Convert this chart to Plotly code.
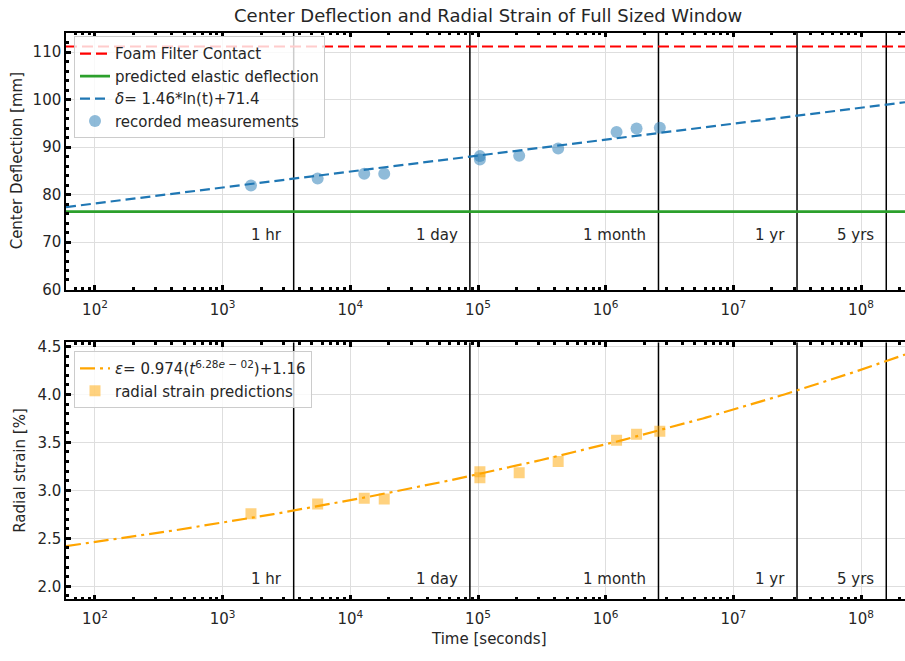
import numpy as np
import plotly.graph_objects as go

# ---- data -------------------------------------------------------------
time_s = [1666, 5546, 12850, 18430, 103500, 103500, 210200, 424600, 1217000, 1746000, 2656000]
deflection_mm = [81.9, 83.4, 84.4, 84.4, 87.4, 88.1, 88.2, 89.7, 93.2, 93.9, 94.1]
strain_pct = [2.757, 2.859, 2.917, 2.910, 3.132, 3.195, 3.183, 3.302, 3.523, 3.585, 3.616]

foam_contact_mm = 111.2
elastic_deflection_mm = 76.4

# fit coefficients: delta = a*ln(t) + b ; eps = c*t**p + d
defl_a, defl_b = 1.46, 71.4
strain_c, strain_p, strain_d = 0.974, 0.0628, 1.16

milestone_s = [3600, 86400, 2592000, 31536000, 157680000]
milestone_labels = ["1 hr", "1 day", "1 month", "1 yr", "5 yrs"]

decade_ticks = [1e2, 1e3, 1e4, 1e5, 1e6, 1e7, 1e8]
decade_labels = ["10<sup>%d</sup>" % int(round(np.log10(v))) for v in decade_ticks]

# ---- geometry ---------------------------------------------------------
W, H = 905, 661
XLOG_RANGE = [1.7729, 8.3446]
TOP_YRANGE = [59.9, 114.1]
BOT_YRANGE = [1.864, 4.544]
t_min, t_max = 10 ** XLOG_RANGE[0], 10 ** XLOG_RANGE[1]

x_dom = [66 / W, 1.0]
top_dom = [(H - 291.7) / H, (H - 29.3) / H]
bot_dom = [(H - 607.3) / H, (H - 345.0) / H]

TEXT = "#262626"
GRID = "#dedede"
t_fit = np.logspace(XLOG_RANGE[0], XLOG_RANGE[1], 300)

minor_vals = [k * 10 ** e for e in range(1, 9) for k in range(2, 10)]

fig = go.Figure()

# milestone markers (vertical lines) on both panels
for ms in milestone_s:
    fig.add_trace(go.Scatter(x=[ms, ms], y=TOP_YRANGE, mode="lines",
                             line=dict(color="black", width=1.5),
                             showlegend=False, hoverinfo="skip",
                             xaxis="x", yaxis="y"))
    fig.add_trace(go.Scatter(x=[ms, ms], y=BOT_YRANGE, mode="lines",
                             line=dict(color="black", width=1.5),
                             showlegend=False, hoverinfo="skip",
                             xaxis="x2", yaxis="y2"))

# ---- top panel --------------------------------------------------------
fig.add_trace(go.Scatter(x=[t_min, t_max], y=[foam_contact_mm] * 2, mode="lines",
                         line=dict(color="#ff0000", width=2.2, dash="11px,5px"),
                         name="Foam Filter Contact", legend="legend",
                         xaxis="x", yaxis="y"))
fig.add_trace(go.Scatter(x=[t_min, t_max], y=[elastic_deflection_mm] * 2, mode="lines",
                         line=dict(color="#2ca02c", width=2.6),
                         name="predicted elastic deflection", legend="legend",
                         xaxis="x", yaxis="y"))
fig.add_trace(go.Scatter(x=t_fit, y=defl_a * np.log(t_fit) + defl_b, mode="lines",
                         line=dict(color="#1f77b4", width=2.2, dash="10px,5px"),
                         name="<i>δ</i>= %.2f*ln(t)+%.1f" % (defl_a, defl_b),
                         legend="legend", xaxis="x", yaxis="y"))
fig.add_trace(go.Scatter(x=time_s, y=deflection_mm, mode="markers",
                         marker=dict(symbol="circle", size=12, color="rgba(31,119,180,0.5)",
                                     line=dict(width=0)),
                         name="recorded measurements", legend="legend",
                         xaxis="x", yaxis="y"))

# ---- bottom panel -----------------------------------------------------
exp_txt = ("%.2e" % strain_p).replace("e-", "<i>e</i> − ")
fig.add_trace(go.Scatter(x=t_fit, y=strain_c * t_fit ** strain_p + strain_d, mode="lines",
                         line=dict(color="#ffa500", width=2.2, dash="15px,5px,3px,5px"),
                         name="<i>ε</i>= %.3f(<i>t</i><sup>%s</sup>)+%.2f" % (strain_c, exp_txt, strain_d),
                         legend="legend2", xaxis="x2", yaxis="y2"))
fig.add_trace(go.Scatter(x=time_s, y=strain_pct, mode="markers",
                         marker=dict(symbol="square", size=11, color="rgba(255,165,0,0.5)",
                                     line=dict(width=0)),
                         name="radial strain predictions", legend="legend2",
                         xaxis="x2", yaxis="y2"))

# ---- axes -------------------------------------------------------------
def xaxis_style(anchor):
    return dict(type="log", range=XLOG_RANGE, domain=x_dom, anchor=anchor,
                tickmode="array", tickvals=decade_ticks, ticktext=decade_labels,
                ticks="inside", ticklen=5, tickwidth=2.5, tickcolor="black",
                ticklabelstandoff=5,
                showline=True, linecolor="black", linewidth=1.5, mirror="ticks",
                showgrid=True, gridcolor=GRID, gridwidth=1.2, zeroline=False,
                tickfont=dict(size=15, color=TEXT),
                minor=dict(tickmode="array", tickvals=minor_vals, ticks="inside",
                           ticklen=3, tickwidth=2.5, tickcolor="black", showgrid=False))

def yaxis_style(anchor, rng, dom, dtick, mdtick, fmt):
    return dict(range=rng, domain=dom, anchor=anchor, tick0=0, dtick=dtick,
                tickformat=fmt,
                ticks="inside", ticklen=5, tickwidth=2.5, tickcolor="black",
                showline=True, linecolor="black", linewidth=1.5, mirror=False,
                showgrid=True, gridcolor=GRID, gridwidth=1.2, zeroline=False,
                tickfont=dict(size=15, color=TEXT),
                minor=dict(tick0=0, dtick=mdtick, ticks="inside", ticklen=3,
                           tickwidth=2.5, tickcolor="black", showgrid=False))

legend_common = dict(xanchor="left", yanchor="top", bgcolor="rgba(255,255,255,0.8)",
                     bordercolor="#cccccc", borderwidth=1, itemwidth=30,
                     font=dict(size=15, color=TEXT, family="DejaVu Sans"))

annotations = []
for ms, lab in zip(milestone_s, milestone_labels):
    annotations.append(dict(x=np.log10(ms), y=70, xref="x", yref="y", text=lab,
                            showarrow=False, xanchor="right", yanchor="bottom",
                            xshift=-10, yshift=-4, font=dict(size=15, color=TEXT)))
    annotations.append(dict(x=np.log10(ms), y=2.0, xref="x2", yref="y2", text=lab,
                            showarrow=False, xanchor="right", yanchor="bottom",
                            xshift=-10, yshift=-4, font=dict(size=15, color=TEXT)))

annotations += [
    dict(x=488 / W, y=1 - 12 / H, xref="paper", yref="paper", showarrow=False,
         text="Center Deflection and Radial Strain of Full Sized Window",
         xanchor="center", yanchor="middle", font=dict(size=18, color=TEXT)),
    dict(x=17 / W, y=(top_dom[0] + top_dom[1]) / 2, xref="paper", yref="paper",
         showarrow=False, text="Center Deflection [mm]", textangle=-90,
         xanchor="center", yanchor="middle", font=dict(size=15, color=TEXT)),
    dict(x=20 / W, y=(bot_dom[0] + bot_dom[1]) / 2, xref="paper", yref="paper",
         showarrow=False, text="Radial strain [%]", textangle=-90,
         xanchor="center", yanchor="middle", font=dict(size=15, color=TEXT)),
    dict(x=489 / W, y=1 - 648 / H, xref="paper", yref="paper", showarrow=False,
         text="Time [seconds]", xanchor="center", yanchor="middle",
         font=dict(size=15, color=TEXT)),
]

fig.update_layout(
    width=W, height=H,
    margin=dict(l=0, r=0, t=0, b=0),
    paper_bgcolor="white", plot_bgcolor="white",
    font=dict(family="DejaVu Sans", size=15, color=TEXT),
    xaxis=xaxis_style("y"),
    yaxis=yaxis_style("x", TOP_YRANGE, top_dom, 10, 2, "d"),
    xaxis2=xaxis_style("y2"),
    yaxis2=yaxis_style("x2", BOT_YRANGE, bot_dom, 0.5, 0.1, ".1f"),
    legend=dict(x=74 / W, y=1 - 33 / H, **legend_common),
    legend2=dict(x=74 / W, y=1 - 354 / H, **legend_common),
    annotations=annotations,
    showlegend=True,
)

fig.write_html("out.html")
